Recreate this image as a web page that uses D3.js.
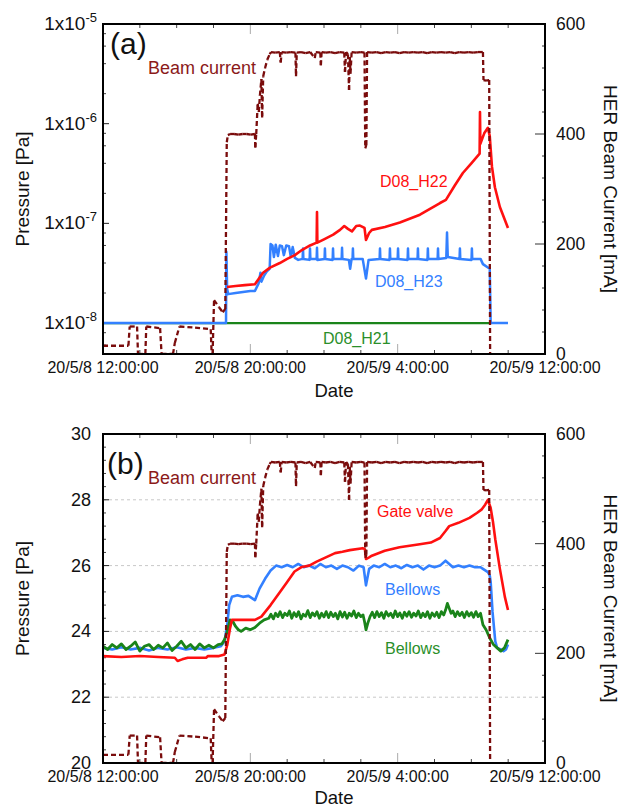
<!DOCTYPE html>
<html><head><meta charset="utf-8">
<script src="https://cdn.jsdelivr.net/npm/d3@7"></script>
<style>html,body{margin:0;padding:0;background:#fff}svg{display:block;font-family:"Liberation Sans",Arial,sans-serif}</style>
</head><body><svg id="c" width="624" height="807"></svg>
<script>
// ---------------- data ----------------
const startTime = new Date(2020, 4, 8, 12, 0, 0);
const dateTickHours = [0, 8, 16, 24];
const dateTickLabels = ["20/5/8 12:00:00", "20/5/8 20:00:00", "20/5/9 4:00:00", "20/5/9 12:00:00"];
const pressureTicksA = [1e-8, 1e-7, 1e-6, 1e-5];
const pressureExpA = ["-8", "-7", "-6", "-5"];
const pressureTicksB = [20, 22, 24, 26, 28, 30];
const currentTicks = [0, 200, 400, 600];

// HER beam current [hours from 20/5/8 12:00, mA]
const beamCurrent = [
 [0,15],[1.38,15],[1.45,50],[1.85,50],[1.9,0],[2.3,0],[2.35,50],[3.1,47],[3.18,0],[3.8,0],[3.9,20],[4.15,50],[5.0,48],[5.85,45],[5.9,0],[5.95,0],
 [6.03,98],[6.3,85],[6.5,76],[6.64,82],[6.72,385],[6.78,398],[6.9,400],[7.12,400],[7.35,399],[7.58,400],[7.8,400],[8.02,399],[8.25,400],
 [8.27,375],[8.32,400],[8.4,455],[8.46,440],[8.52,470],[8.6,500],[8.64,430],[8.7,505],[8.8,520],[8.92,535],[9.05,545],
 [9.12,549],[9.35,548],[9.6,549],[9.65,530],[9.7,549],[9.95,548],[10.2,549],[10.45,548],[10.48,505],[10.52,548],[10.75,549],[11.0,547],
 [11.25,549],[11.5,538],[11.55,549],[11.8,548],[11.83,525],[11.87,549],[12.1,548],[12.35,549],[12.6,547],[12.85,549],[13.1,548],[13.14,513],
 [13.2,549],[13.3,545],[13.36,480],[13.4,540],[13.44,510],[13.5,549],[13.75,548],[14.0,549],[14.2,548],[14.24,374],[14.3,380],[14.34,549],
 [14.6,548],[14.85,549],[15.1,547],[15.35,549],[15.6,548],[15.85,549],[16.1,547],[16.35,549],[16.6,548],[16.85,549],[17.1,548],[17.35,549],
 [17.6,547],[17.85,549],[18.1,548],[18.35,549],[18.6,548],[18.85,549],[19.1,547],[19.35,549],[19.6,548],[19.85,549],[20.1,548],[20.35,549],
 [20.63,549],[20.66,498],[20.8,497],[20.97,498],[21.02,0]
];

// (a) pressures [hours, Pa]
const d08H21 = [[0,1e-8],[21.0,1e-8]];
const d08H23 = [
 [0,1e-8],[6.68,1e-8],[6.7,5.2e-8],[6.74,2.2e-8],[6.8,1.95e-8],[7.2,2.0e-8],[7.6,2.05e-8],[8.0,2.1e-8],[8.25,2.1e-8],[8.45,2.5e-8],
 [8.55,3.2e-8],[8.6,2.6e-8],[8.75,3.0e-8],[8.9,3.3e-8],[9.05,3.5e-8],[9.1,6.2e-8],[9.2,6.0e-8],[9.28,4.6e-8],[9.38,6.1e-8],[9.5,4.7e-8],
 [9.6,6.0e-8],[9.72,5.9e-8],[9.82,4.8e-8],[9.95,6.0e-8],[10.1,5.9e-8],[10.2,4.6e-8],[10.3,5.8e-8],[10.42,4.5e-8],[10.6,4.3e-8],
 [10.84,4.4e-8],[10.86,5.6e-8],[10.88,4.4e-8],[11.22,4.3e-8],[11.24,5.6e-8],[11.26,4.4e-8],[11.6,4.4e-8],[11.62,5.7e-8],[11.64,4.3e-8],
 [12.03,4.4e-8],[12.05,5.6e-8],[12.07,4.4e-8],[12.47,4.3e-8],[12.49,5.6e-8],[12.51,4.4e-8],[12.96,4.4e-8],[12.98,5.7e-8],[13.0,4.4e-8],
 [13.35,4.3e-8],[13.42,3.5e-8],[13.5,4.4e-8],[13.55,4.4e-8],[13.57,5.6e-8],[13.59,4.4e-8],[14.1,4.4e-8],[14.28,2.8e-8],[14.42,4.3e-8],
 [15.02,4.4e-8],[15.04,5.6e-8],[15.06,4.4e-8],[15.56,4.3e-8],[15.58,5.6e-8],[15.6,4.4e-8],[16.0,4.4e-8],[16.02,5.6e-8],[16.04,4.4e-8],
 [16.54,4.3e-8],[16.56,5.6e-8],[16.58,4.4e-8],[17.08,4.4e-8],[17.1,5.6e-8],[17.12,4.4e-8],[17.62,4.3e-8],[17.64,5.6e-8],[17.66,4.4e-8],
 [18.17,4.4e-8],[18.19,5.6e-8],[18.21,4.4e-8],[18.64,4.5e-8],[18.68,8.1e-8],[18.72,4.6e-8],[19.36,4.4e-8],[19.38,5.6e-8],[19.4,4.4e-8],
 [20.01,4.3e-8],[20.03,5.6e-8],[20.05,4.4e-8],[20.5,4.4e-8],[20.63,3.9e-8],[20.9,3.6e-8],[21.0,3.5e-8],[21.05,1e-8],[21.99,1e-8]
];
const d08H22 = [
 [6.73,2.3e-8],[7.2,2.35e-8],[7.7,2.4e-8],[8.25,2.45e-8],[8.69,3.2e-8],[9.07,3.6e-8],[9.6,4.0e-8],[10.0,4.4e-8],[10.42,4.8e-8],
 [10.8,5.4e-8],[11.24,6.0e-8],[11.6,6.4e-8],[11.62,1.3e-7],[11.64,6.4e-8],[12.0,6.9e-8],[12.5,7.7e-8],[12.87,8.6e-8],[13.1,9.4e-8],
 [13.3,8.8e-8],[13.52,8.3e-8],[13.75,9.4e-8],[13.95,9.5e-8],[14.2,9.0e-8],[14.28,6.8e-8],[14.45,8.0e-8],[14.6,8.6e-8],[15.31,9.2e-8],
 [16.12,1.02e-7],[17.21,1.22e-7],[18.3,1.6e-7],[18.62,1.72e-7],[19.1,2.4e-7],[19.54,3.2e-7],[20.0,4.0e-7],[20.45,5.0e-7],[20.47,1.31e-6],
 [20.49,6.3e-7],[20.7,8.0e-7],[20.9,9.1e-7],[21.0,7.5e-7],[21.12,3.7e-7],[21.28,2.3e-7],[21.55,1.46e-7],[21.99,9.0e-8]
];

// (b) pressures [hours, Pa]
const gateValve = [
 [0,23.25],[1,23.22],[2,23.25],[3,23.22],[3.9,23.2],[4.05,23.1],[4.3,23.15],[4.6,23.2],[5.6,23.2],[5.7,23.25],[6.3,23.25],[6.6,23.3],
 [6.75,23.6],[6.9,24.1],[7.0,24.35],[8.25,24.35],[8.6,24.45],[9.1,24.8],[9.61,25.2],[10.0,25.5],[10.4,25.82],[10.8,25.96],[11.2,26.0],
 [11.6,26.12],[12.1,26.25],[12.6,26.38],[13.0,26.42],[13.4,26.47],[14.1,26.53],[14.22,26.5],[14.28,26.2],[14.45,26.25],[14.6,26.3],
 [15.3,26.45],[16.1,26.56],[17.2,26.65],[17.8,26.7],[18.3,26.84],[18.6,27.05],[18.8,27.2],[19.3,27.3],[19.9,27.45],[20.3,27.6],
 [20.55,27.7],[20.75,27.85],[20.9,28.0],[21.05,27.75],[21.17,27.35],[21.3,26.8],[21.55,25.9],[21.82,25.05],[21.99,24.65]
];
const bellowsBlue = [
 [0,23.5],[0.5,23.45],[1,23.52],[1.5,23.45],[2,23.5],[2.5,23.42],[3,23.5],[3.5,23.45],[4,23.52],[4.5,23.45],[5,23.5],[5.5,23.45],
 [6,23.5],[6.4,23.55],[6.6,23.7],[6.75,24.2],[6.85,24.8],[7.0,25.05],[7.3,25.1],[7.6,25.05],[7.9,25.08],[8.25,24.95],[8.5,25.3],
 [8.8,25.6],[9.1,25.85],[9.4,26.0],[9.7,25.95],[10.0,26.02],[10.3,25.95],[10.6,26.05],[10.9,25.95],[11.2,26.0],[11.5,25.92],[11.8,26.05],
 [12.1,25.95],[12.4,26.0],[12.7,25.9],[13.0,26.0],[13.3,25.95],[13.6,25.85],[13.9,26.0],[14.15,25.95],[14.28,25.4],[14.45,25.9],
 [14.7,26.0],[15.0,25.95],[15.3,26.05],[15.6,25.95],[15.9,26.0],[16.2,25.92],[16.5,26.02],[16.8,25.95],[17.1,26.0],[17.4,25.88],
 [17.7,26.0],[18.0,25.95],[18.3,26.0],[18.6,26.15],[18.8,26.05],[19.0,25.95],[19.3,26.0],[19.6,25.95],[19.9,26.0],[20.2,25.95],
 [20.5,25.95],[20.63,25.9],[20.9,25.8],[21.0,25.7],[21.05,25.5],[21.15,24.6],[21.3,23.7],[21.4,23.5],[21.6,23.45],[21.75,23.4],
 [21.88,23.45],[21.99,23.6]
];
const bellowsGreen = [
 [0,23.55],[0.25,23.45],[0.5,23.6],[0.75,23.5],[1.0,23.62],[1.25,23.45],[1.5,23.55],[1.75,23.68],[2.0,23.4],[2.25,23.55],[2.5,23.6],
 [2.75,23.45],[3.0,23.58],[3.25,23.5],[3.5,23.65],[3.75,23.42],[4.0,23.55],[4.25,23.7],[4.5,23.5],[4.75,23.6],[5.0,23.45],[5.25,23.62],
 [5.5,23.5],[5.75,23.58],[6.0,23.5],[6.25,23.6],[6.45,23.62],[6.6,23.75],[6.75,24.0],[6.9,24.35],[7.05,24.3],[7.2,24.15],[7.35,24.05],
 [7.5,24.0],[7.75,24.1],[8.0,24.05],[8.25,24.12],[8.5,24.25],[8.75,24.35],
 [9.0,24.4],[9.12,24.52],[9.25,24.38],[9.37,24.55],[9.5,24.45],[9.62,24.6],[9.75,24.42],[9.87,24.55],[10.0,24.48],[10.12,24.62],
 [10.25,24.4],[10.37,24.57],[10.5,24.45],[10.62,24.6],[10.75,24.38],[10.87,24.52],[11.0,24.46],[11.12,24.63],[11.25,24.42],[11.37,24.56],
 [11.5,24.47],[11.62,24.6],[11.75,24.4],[11.87,24.55],[12.0,24.44],[12.12,24.6],[12.25,24.42],[12.37,24.58],[12.5,24.45],[12.62,24.55],
 [12.75,24.38],[12.87,24.6],[13.0,24.44],[13.12,24.58],[13.25,24.4],[13.37,24.55],[13.5,24.47],[13.62,24.62],[13.75,24.42],[13.87,24.55],
 [14.0,24.45],[14.12,24.5],[14.2,24.3],[14.28,24.05],[14.38,24.25],[14.5,24.45],[14.62,24.58],[14.75,24.42],[14.87,24.6],[15.0,24.45],
 [15.12,24.57],[15.25,24.4],[15.37,24.6],[15.5,24.47],[15.62,24.55],[15.75,24.42],[15.87,24.62],[16.0,24.45],[16.12,24.56],[16.25,24.4],
 [16.37,24.58],[16.5,24.46],[16.62,24.6],[16.75,24.43],[16.87,24.55],[17.0,24.47],[17.12,24.62],[17.25,24.42],[17.37,24.55],[17.5,24.45],
 [17.62,24.6],[17.75,24.4],[17.87,24.56],[18.0,24.46],[18.12,24.58],[18.25,24.42],[18.37,24.6],[18.5,24.5],[18.6,24.65],[18.7,24.85],
 [18.8,24.7],[18.9,24.55],[19.0,24.62],[19.12,24.45],[19.25,24.6],[19.37,24.48],[19.5,24.58],[19.62,24.42],[19.75,24.6],[19.87,24.47],
 [20.0,24.57],[20.12,24.43],[20.25,24.6],[20.37,24.45],[20.5,24.55],
 [20.63,24.2],[20.8,24.05],[21.0,23.8],[21.2,23.6],[21.4,23.5],[21.6,23.4],[21.8,23.5],[21.99,23.75]
];

// ---------------- drawing ----------------
const C = {beam:"#7a0c0c", beamText:"#8b1a1a", red:"#ff1010", blue:"#3380ff", green:"#1a841a", greenText:"#2a8f2a"};
const svg = d3.select("#c");
const toDate = h => new Date(+startTime + h * 3600000);
const L = 103, R = 545;
const x = d3.scaleTime().domain([startTime, toDate(24)]).range([L, R]);

function panel(top, bottom, yL, leftTicks, leftMinor, labelFn, idx, gridVals, dateY) {
  const g = svg.append("g");
  const yR = d3.scaleLinear().domain([0, 600]).range([bottom, top]);
  const clipId = "clip" + idx;
  svg.append("clipPath").attr("id", clipId).append("rect").attr("x", L).attr("y", top).attr("width", R - L).attr("height", bottom - top);
  (gridVals || []).forEach(v => g.append("line").attr("x1", L).attr("x2", R).attr("y1", yL(v)).attr("y2", yL(v))
    .attr("stroke", "#c8c8c8").attr("stroke-width", 1).attr("stroke-dasharray", "3,3"));
  const minorH = d3.range(0, 25, 2).filter(h => h % 8 !== 0);
  minorH.forEach(h => {
    const xx = x(toDate(h));
    g.append("line").attr("x1", xx).attr("x2", xx).attr("y1", bottom).attr("y2", bottom - 4).attr("stroke", "#444").attr("stroke-width", 1);
    g.append("line").attr("x1", xx).attr("x2", xx).attr("y1", top).attr("y2", top + 4).attr("stroke", "#444").attr("stroke-width", 1);
  });
  dateTickHours.forEach((h, i) => {
    const xx = x(toDate(h));
    g.append("line").attr("x1", xx).attr("x2", xx).attr("y1", bottom).attr("y2", bottom - 10).attr("stroke", "#aaa").attr("stroke-width", 1);
    g.append("line").attr("x1", xx).attr("x2", xx).attr("y1", top).attr("y2", top + 10).attr("stroke", "#aaa").attr("stroke-width", 1);
    g.append("text").attr("x", xx).attr("y", bottom + 19).attr("text-anchor", "middle").attr("font-size", 16).attr("fill", "#111").text(dateTickLabels[i]);
  });
  leftMinor.forEach(v => g.append("line").attr("x1", L).attr("x2", L + 3).attr("y1", yL(v)).attr("y2", yL(v)).attr("stroke", "#444"));
  leftTicks.forEach((v, i) => {
    g.append("line").attr("x1", L).attr("x2", L + 6).attr("y1", yL(v)).attr("y2", yL(v)).attr("stroke", "#222");
    labelFn(g, v, i, yL(v));
  });
  d3.range(0, 601, 40).forEach(v => {
    const major = v % 200 === 0;
    g.append("line").attr("x1", R).attr("x2", R - (major ? 10 : 3)).attr("y1", yR(v)).attr("y2", yR(v)).attr("stroke", "#333");
  });
  currentTicks.forEach(v => g.append("text").attr("x", 556).attr("y", yR(v) + 6).attr("font-size", 17.5).attr("fill", "#111").text(v));
  const mid = (top + bottom) / 2;
  g.append("text").attr("transform", `translate(29,${mid}) rotate(-90)`).attr("text-anchor", "middle").attr("font-size", 19).attr("fill", "#111").text("Pressure [Pa]");
  g.append("text").attr("transform", `translate(604,${mid}) rotate(90)`).attr("text-anchor", "middle").attr("font-size", 19).attr("fill", "#111").text("HER Beam Current [mA]");
  g.append("text").attr("x", 334).attr("y", dateY).attr("text-anchor", "middle").attr("font-size", 18.5).attr("fill", "#111").text("Date");
  const plot = svg.append("g").attr("clip-path", `url(#${clipId})`);
  return {g, plot, yR};
}

function drawLine(plot, data, y, color, w) {
  const line = d3.line().x(d => x(toDate(d[0]))).y(d => y(d[1]));
  plot.append("path").datum(data).attr("d", line).attr("fill", "none").attr("stroke", color).attr("stroke-width", w).attr("stroke-linejoin", "round");
}
function drawBeam(plot, yR) {
  const line = d3.line().x(d => x(toDate(d[0]))).y(d => yR(d[1]));
  const segs = d3.pairs(beamCurrent);
  plot.selectAll(null).data(segs).join("path").attr("d", d => line(d)).attr("fill", "none")
    .attr("stroke", C.beam).attr("stroke-width", 2.3).attr("stroke-dasharray", "5,3");
}
function frame(top, bottom) {
  svg.append("rect").attr("x", L).attr("y", top).attr("width", R - L).attr("height", bottom - top)
    .attr("fill", "none").attr("stroke", "#000").attr("stroke-width", 2);
}
function label(txt, xx, yy, color, size) {
  svg.append("text").attr("x", xx).attr("y", yy).attr("font-size", size).attr("fill", color).text(txt);
}

// ----- panel (a)
const topA = 24, botA = 354;
const yA = d3.scaleLog().domain([4.89e-9, 1e-5]).range([botA, topA]);
const minorA = [];
[-9, -8, -7, -6].forEach(e => [2, 4, 6, 8].forEach(m => { const v = m * Math.pow(10, e); if (v > 4.89e-9 && v < 1e-5) minorA.push(v); }));
const pa = panel(topA, botA, yA, pressureTicksA, minorA, (g, v, i, yy) => {
  const t = g.append("text").attr("x", 97).attr("y", yy + 6).attr("text-anchor", "end").attr("font-size", 19).attr("fill", "#111");
  t.append("tspan").text("1x10");
  t.append("tspan").attr("dy", -8).attr("font-size", 13).text(pressureExpA[i]);
}, 0, [], 397);
drawLine(pa.plot, d08H21, yA, C.green, 2.2);
drawLine(pa.plot, d08H23, yA, C.blue, 2.5);
drawLine(pa.plot, d08H22, yA, C.red, 2.6);
drawBeam(pa.plot, pa.yR);
frame(topA, botA);
label("(a)", 110, 54, "#111", 30);
label("Beam current", 148, 74, C.beamText, 18);
label("D08_H22", 380, 187, C.red, 16);
label("D08_H23", 375, 287, C.blue, 16);
label("D08_H21", 323, 344, C.greenText, 16);

// ----- panel (b)
const topB = 434, botB = 763;
const yB = d3.scaleLinear().domain([20, 30]).range([botB, topB]);
const minorB = d3.range(20, 30.01, 0.4).filter(v => Math.abs(v / 2 - Math.round(v / 2)) > 0.01);
const pb = panel(topB, botB, yB, pressureTicksB, minorB, (g, v, i, yy) => {
  g.append("text").attr("x", 91).attr("y", yy + 6).attr("text-anchor", "end").attr("font-size", 18).attr("fill", "#111").text(v);
}, 1, [22, 24, 26, 28], 804);
drawLine(pb.plot, bellowsBlue, yB, C.blue, 2.6);
drawLine(pb.plot, bellowsGreen, yB, C.green, 2.8);
drawLine(pb.plot, gateValve, yB, C.red, 2.6);
drawBeam(pb.plot, pb.yR);
frame(topB, botB);
label("(b)", 107, 474, "#111", 30);
label("Beam current", 148, 484, C.beamText, 18);
label("Gate valve", 377, 517, C.red, 16);
label("Bellows", 385, 595, C.blue, 16);
label("Bellows", 385, 654, C.greenText, 16);
</script></body></html>
